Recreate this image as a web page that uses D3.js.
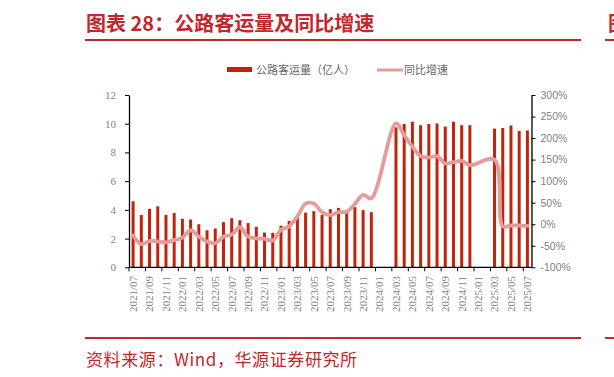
<!DOCTYPE html>
<html><head><meta charset="utf-8">
<script src="https://cdn.jsdelivr.net/npm/d3@7"></script>
<style>body{margin:0;background:#fff}svg{display:block}</style>
</head><body><svg id="c" width="614" height="377"></svg>
<script>
const months = [
  "2021/07","2021/08","2021/09","2021/10","2021/11","2021/12",
  "2022/01","2022/02","2022/03","2022/04","2022/05","2022/06","2022/07","2022/08","2022/09","2022/10","2022/11","2022/12",
  "2023/01","2023/02","2023/03","2023/04","2023/05","2023/06","2023/07","2023/08","2023/09","2023/10","2023/11","2023/12",
  "2024/01","2024/02","2024/03","2024/04","2024/05","2024/06","2024/07","2024/08","2024/09","2024/10","2024/11","2024/12",
  "2025/01","2025/02","2025/03","2025/04","2025/05","2025/06","2025/07"
];
const passengers = [
  4.60,3.65,4.07,4.25,3.65,3.78,
  3.38,3.33,3.00,2.58,2.70,3.15,3.42,3.28,3.08,2.82,2.42,2.40,
  2.90,3.23,3.52,3.81,3.91,3.65,4.05,4.14,3.84,4.19,3.98,3.84,
  null,null,9.75,9.98,10.14,9.90,9.98,10.02,9.80,10.14,9.90,9.90,
  null,null,9.66,9.70,9.88,9.50,9.53
];
const growth = [
  -26,-46,-39,-40,-42,-37,
  -31,-14,-29,-40,-44,-29,-24,-7,-29,-33,-34,-38,
  -13,-5,18,48,48,28,21,28,29,47,68,60,
  null,null,234,207,180,158,155,158,141,144,147,137,
  null,null,150,-5,-3,-3,-4
];
const leftTicks = [0,2,4,6,8,10,12];
const rightTicks = [-100,-50,0,50,100,150,200,250,300];
const xLabels = months.filter((d,i)=>i%2===0);
const seriesNames = ["公路客运量（亿人）","同比增速"];
const titleText = "图表 28：公路客运量及同比增速";
const sourceText = "资料来源：Wind，华源证券研究所";

const RED = "#C0282D", BAR = "#C0250C", LINE = "#E59C9A", GRAY = "#7f7f7f";
const svg = d3.select("#c");

// title
svg.append("text").attr("x",86).attr("y",31).text(titleText)
  .attr("font-family","'Noto Sans CJK SC'").attr("font-weight",700).attr("font-size",20).attr("fill",RED);
svg.append("line").attr("x1",85).attr("x2",581).attr("y1",40).attr("y2",40).attr("stroke",RED).attr("stroke-width",2);
svg.append("line").attr("x1",605).attr("x2",614).attr("y1",40).attr("y2",40).attr("stroke",RED).attr("stroke-width",2);
svg.append("text").attr("x",608).attr("y",31).text("图")
  .attr("font-family","'Noto Sans CJK SC'").attr("font-weight",700).attr("font-size",20).attr("fill",RED);

// scales
const L = 129, R = 531.5, T = 95, B = 267.3;
const x = d3.scaleBand().domain(months).range([L,R]).padding(0);
const yL = d3.scaleLinear().domain([0,12]).range([B,T]);
const yR = d3.scaleLinear().domain([-100,300]).range([B,T]);

// bars
const barW = 3;
svg.append("g").selectAll("rect").data(months.map((m,i)=>({m,v:passengers[i]})).filter(d=>d.v!=null))
  .join("rect")
  .attr("x",d=>x(d.m)+x.bandwidth()/2-barW/2)
  .attr("width",barW)
  .attr("y",d=>yL(d.v))
  .attr("height",d=>yL(0)-yL(d.v))
  .attr("fill",BAR);

// line
const pts = months.map((m,i)=>({m,v:growth[i]})).filter(d=>d.v!=null);
const lineGen = d3.line().x(d=>x(d.m)+x.bandwidth()/2).y(d=>yR(d.v)).curve(d3.curveCatmullRom.alpha(0.5));
svg.append("path").attr("d",lineGen(pts)).attr("fill","none").attr("stroke",LINE)
  .attr("stroke-width",3.8).attr("stroke-linejoin","round").attr("stroke-linecap","round");

// left axis
const gL = svg.append("g").attr("transform",`translate(${L},0)`)
  .call(d3.axisLeft(yL).tickValues(leftTicks).tickSize(4).tickSizeOuter(0).tickPadding(9));
gL.select(".domain").attr("stroke","#000").attr("stroke-width",1.3);
gL.selectAll(".tick line").attr("stroke","#000");
gL.selectAll("text").attr("font-family","'Liberation Serif'").attr("font-size",11).attr("fill",GRAY);

// right axis
const gR = svg.append("g").attr("transform",`translate(${R},0)`)
  .call(d3.axisRight(yR).tickValues(rightTicks).tickFormat(d=>d+"%").tickSize(4).tickSizeOuter(0).tickPadding(5));
gR.select(".domain").attr("stroke","#000").attr("stroke-width",1.3);
gR.selectAll(".tick line").attr("stroke","#000");
gR.selectAll("text").attr("font-family","'Liberation Sans'").attr("font-size",10.5).attr("fill",GRAY);

// x axis
const gX = svg.append("g");
gX.append("line").attr("x1",L).attr("x2",R).attr("y1",B).attr("y2",B).attr("stroke","#000").attr("stroke-width",1.2);
gX.selectAll("line.tk").data(xLabels).join("line").attr("class","tk")
  .attr("x1",d=>x(d)).attr("x2",d=>x(d)).attr("y1",B).attr("y2",B+4).attr("stroke","#000");
gX.selectAll("text").data(xLabels).join("text")
  .attr("transform",d=>`translate(${x(d)+x.bandwidth()/2},276) rotate(-90)`)
  .attr("text-anchor","end").attr("dy","0.35em").text(d=>d)
  .attr("font-family","'Liberation Serif'").attr("font-size",11).attr("fill",GRAY);

// legend
const lg = svg.append("g");
lg.append("rect").attr("x",227).attr("y",67).attr("width",25).attr("height",5).attr("fill",BAR);
lg.append("text").attr("x",256).attr("y",70).attr("dy","0.35em").text(seriesNames[0])
  .attr("font-family","'Noto Sans CJK SC'").attr("font-size",11).attr("fill","#666");
lg.append("line").attr("x1",377).attr("x2",403).attr("y1",70).attr("y2",70).attr("stroke",LINE).attr("stroke-width",3);
lg.append("text").attr("x",404).attr("y",70).attr("dy","0.35em").text(seriesNames[1])
  .attr("font-family","'Noto Sans CJK SC'").attr("font-size",11).attr("fill","#666");

// footer
svg.append("line").attr("x1",85).attr("x2",581).attr("y1",338).attr("y2",338).attr("stroke",RED).attr("stroke-width",2);
svg.append("line").attr("x1",605).attr("x2",614).attr("y1",338).attr("y2",338).attr("stroke",RED).attr("stroke-width",2);
svg.append("text").attr("x",86).attr("y",366).text(sourceText)
  .attr("font-family","'Noto Sans CJK SC'").attr("font-size",17).attr("letter-spacing",0.6).attr("fill",RED);
</script>
</body></html>
